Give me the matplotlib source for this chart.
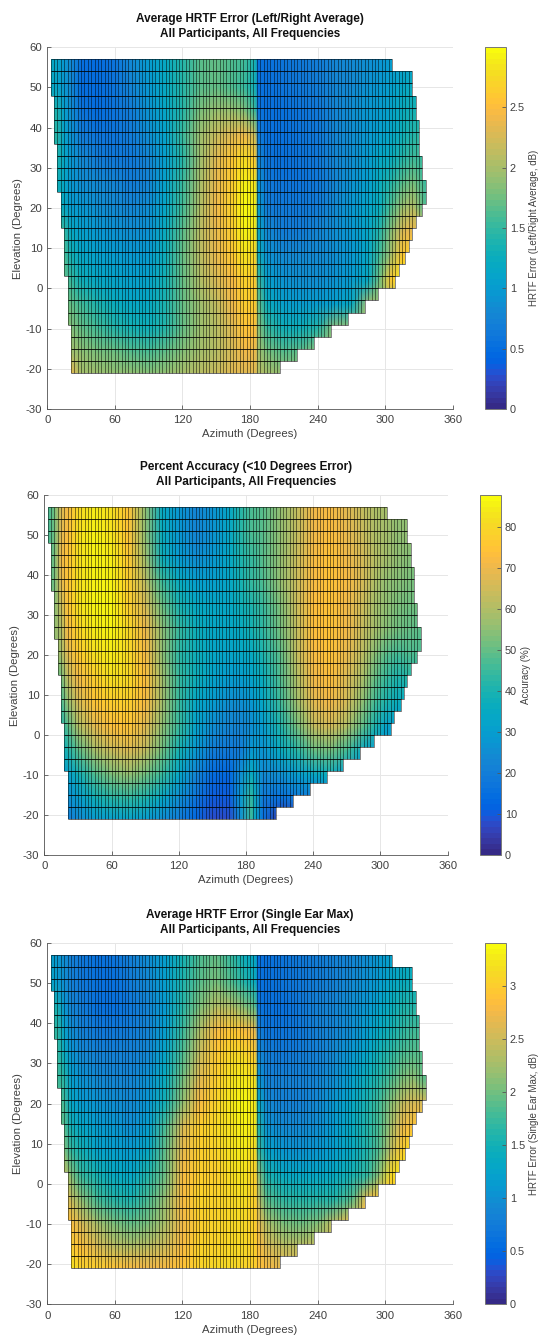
import numpy as np
import matplotlib
matplotlib.use('Agg')
import matplotlib.pyplot as plt
from matplotlib.colors import ListedColormap
from matplotlib.patches import Polygon

plt.rcParams['font.family'] = ['Liberation Sans', 'DejaVu Sans']
plt.rcParams['axes.unicode_minus'] = False

# parula, 64 levels
parula = ListedColormap([
    (0.2081, 0.1663, 0.5292), (0.2116, 0.1898, 0.5777), (0.2123, 0.2138, 0.6270), (0.2081, 0.2386, 0.6771),
    (0.1959, 0.2645, 0.7279), (0.1707, 0.2919, 0.7792), (0.1253, 0.3242, 0.8303), (0.0591, 0.3598, 0.8683),
    (0.0117, 0.3875, 0.8820), (0.0060, 0.4086, 0.8828), (0.0165, 0.4266, 0.8786), (0.0329, 0.4430, 0.8720),
    (0.0498, 0.4586, 0.8641), (0.0629, 0.4737, 0.8554), (0.0723, 0.4887, 0.8467), (0.0779, 0.5040, 0.8384),
    (0.0793, 0.5200, 0.8312), (0.0749, 0.5375, 0.8263), (0.0641, 0.5570, 0.8240), (0.0488, 0.5772, 0.8228),
    (0.0343, 0.5966, 0.8199), (0.0265, 0.6137, 0.8135), (0.0239, 0.6287, 0.8038), (0.0231, 0.6418, 0.7913),
    (0.0228, 0.6535, 0.7768), (0.0267, 0.6642, 0.7607), (0.0384, 0.6743, 0.7436), (0.0590, 0.6838, 0.7254),
    (0.0843, 0.6928, 0.7062), (0.1133, 0.7015, 0.6859), (0.1453, 0.7098, 0.6646), (0.1801, 0.7177, 0.6424),
    (0.2178, 0.7250, 0.6193), (0.2586, 0.7317, 0.5954), (0.3022, 0.7376, 0.5712), (0.3482, 0.7424, 0.5473),
    (0.3953, 0.7459, 0.5244), (0.4420, 0.7481, 0.5033), (0.4871, 0.7491, 0.4840), (0.5300, 0.7491, 0.4661),
    (0.5709, 0.7485, 0.4494), (0.6099, 0.7473, 0.4337), (0.6473, 0.7456, 0.4188), (0.6834, 0.7435, 0.4044),
    (0.7184, 0.7411, 0.3905), (0.7525, 0.7384, 0.3768), (0.7858, 0.7356, 0.3633), (0.8185, 0.7327, 0.3498),
    (0.8507, 0.7299, 0.3360), (0.8824, 0.7274, 0.3217), (0.9139, 0.7258, 0.3063), (0.9450, 0.7261, 0.2886),
    (0.9739, 0.7314, 0.2666), (0.9938, 0.7455, 0.2403), (0.9990, 0.7653, 0.2164), (0.9955, 0.7861, 0.1967),
    (0.9880, 0.8066, 0.1794), (0.9789, 0.8271, 0.1633), (0.9697, 0.8481, 0.1475), (0.9626, 0.8705, 0.1309),
    (0.9589, 0.8949, 0.1132), (0.9598, 0.9218, 0.0948), (0.9661, 0.9514, 0.0755), (0.9763, 0.9831, 0.0538)])

azimuths = [3, 9, 15, 21, 30, 45, 60, 75, 90, 105, 120, 135, 150, 165, 175, 185, 187, 195,
            210, 225, 240, 255, 270, 285, 295, 305, 315, 325, 336]
elevations = [57, 50, 44, 38, 32, 26, 20, 14, 8, 2, -4, -10, -16, -21]

# extent of each 3 degree row, top to bottom
row_tops = [57, 54, 51, 48, 45, 42, 39, 36, 33, 30, 27, 24, 21, 18, 15, 12, 9, 6, 3, 0, -3, -6, -9, -12, -15, -18]
row_left = [3, 3, 3, 6, 6, 6, 6, 9, 9, 9, 9, 12, 12, 12, 15, 15, 15, 15, 18, 18, 18, 18, 21, 21, 21, 21]
row_right = [306, 324, 324, 327, 327, 330, 330, 330, 333, 333, 336, 336, 333, 327, 324, 321, 318, 312, 309,
             294, 282, 267, 252, 237, 222, 207]

error_avg = [
    [1.2, 1.1, .95, .8, .55, .5, .6, .8, 1.0, 1.2, 1.45, 1.65, 1.7, 1.6, 1.55, 1.35, .55, .55, .6, .65, .7, .75, .8, .85, .9, 1.0, 1.05, 1.05, 1.05],
    [1.2, 1.1, .95, .8, .5, .48, .58, .75, .95, 1.2, 1.45, 1.65, 1.7, 1.6, 1.5, 1.3, .55, .55, .6, .65, .7, .75, .8, .9, .95, 1.05, 1.15, 1.25, 1.3],
    [1.4, 1.4, 1.05, .85, .58, .5, .58, .7, .9, 1.15, 1.45, 1.8, 1.95, 1.95, 1.85, 1.5, .6, .55, .55, .6, .65, .75, .85, .95, 1.0, 1.1, 1.25, 1.35, 1.4],
    [1.45, 1.45, 1.1, .9, .7, .6, .6, .7, .85, 1.1, 1.5, 1.95, 2.2, 2.3, 2.4, 2.2, .7, .55, .55, .6, .65, .75, .85, .95, 1.05, 1.15, 1.3, 1.45, 1.5],
    [1.4, 1.4, 1.15, .95, .8, .7, .65, .65, .75, 1.05, 1.45, 1.95, 2.3, 2.6, 2.8, 2.6, .8, .6, .55, .6, .65, .75, .85, 1.0, 1.15, 1.25, 1.45, 1.55, 1.5],
    [1.3, 1.3, 1.15, .95, .85, .8, .75, .7, .78, 1.1, 1.5, 2.0, 2.35, 2.65, 2.95, 2.85, .9, .65, .6, .6, .65, .75, .9, 1.05, 1.25, 1.45, 1.65, 1.8, 1.5],
    [1.35, 1.35, 1.2, 1.0, .95, .85, .8, .75, .85, 1.15, 1.55, 2.05, 2.4, 2.7, 3.0, 2.9, 1.0, .7, .65, .65, .7, .8, .95, 1.1, 1.25, 1.6, 1.95, 2.1, 1.6],
    [1.5, 1.5, 1.5, 1.2, 1.05, .95, .9, .85, .9, 1.25, 1.65, 2.1, 2.35, 2.65, 2.95, 2.85, 1.2, .8, .7, .7, .75, .85, .95, 1.15, 1.45, 1.85, 2.25, 2.4, 2.4],
    [1.6, 1.6, 1.6, 1.35, 1.15, 1.05, 1.0, .95, 1.0, 1.3, 1.7, 2.1, 2.35, 2.6, 2.85, 2.7, 1.3, .9, .8, .8, .8, .85, .95, 1.15, 1.55, 2.0, 2.6, 2.7, 2.7],
    [1.7, 1.7, 1.7, 1.5, 1.3, 1.15, 1.1, 1.05, 1.1, 1.35, 1.7, 2.05, 2.25, 2.45, 2.7, 2.6, 1.55, 1.05, .9, .85, .85, .9, 1.0, 1.2, 1.75, 2.6, 2.9, 2.9, 2.9],
    [1.8, 1.8, 1.8, 1.7, 1.55, 1.4, 1.25, 1.15, 1.2, 1.4, 1.7, 1.95, 2.15, 2.4, 2.65, 2.6, 1.75, 1.25, 1.05, 1.0, 1.0, 1.05, 1.2, 2.0, 2.0, 2.0, 2.0, 2.0, 2.0],
    [1.9, 1.9, 1.9, 1.85, 1.7, 1.55, 1.45, 1.35, 1.3, 1.45, 1.7, 1.95, 2.1, 2.3, 2.55, 2.5, 1.9, 1.5, 1.3, 1.3, 1.45, 1.9, 1.9, 1.9, 1.9, 1.9, 1.9, 1.9, 1.9],
    [2.0, 2.0, 2.0, 2.0, 1.9, 1.8, 1.75, 1.65, 1.6, 1.7, 1.85, 2.0, 2.1, 2.25, 2.4, 2.35, 2.0, 1.8, 1.65, 1.7, 1.9, 1.9, 1.9, 1.9, 1.9, 1.9, 1.9, 1.9, 1.9],
    [2.35, 2.35, 2.35, 2.35, 2.0, 1.95, 1.9, 1.9, 1.85, 1.9, 2.0, 2.1, 2.2, 2.3, 2.3, 2.3, 2.1, 2.0, 1.9, 1.9, 1.9, 1.9, 1.9, 1.9, 1.9, 1.9, 1.9, 1.9, 1.9],
]

accuracy = [
    [46, 52, 66, 72, 80, 84, 82, 74, 55, 35, 28, 22, 27, 33, 42, 47, 47, 49, 56, 63, 70, 72, 68, 63, 60, 58, 56, 55, 54],
    [46, 52, 68, 73, 81, 85, 83, 75, 56, 36, 28, 23, 27, 33, 42, 47, 47, 49, 56, 63, 70, 73, 69, 64, 60, 58, 56, 55, 54],
    [48, 52, 70, 74, 82, 86, 84, 76, 58, 38, 30, 26, 28, 33, 40, 45, 45, 48, 56, 64, 72, 74, 71, 65, 61, 58, 56, 54, 52],
    [50, 52, 68, 75, 82, 86, 85, 77, 62, 46, 36, 31, 31, 33, 39, 44, 44, 47, 55, 64, 72, 75, 72, 65, 60, 56, 54, 53, 52],
    [52, 54, 64, 74, 81, 85, 86, 78, 67, 52, 41, 35, 33, 33, 37, 41, 42, 45, 53, 64, 73, 75, 71, 64, 58, 55, 53, 52, 51],
    [54, 56, 60, 72, 79, 84, 85, 80, 71, 56, 44, 37, 34, 33, 35, 39, 40, 43, 51, 63, 73, 75, 70, 63, 58, 54, 52, 50, 48],
    [54, 56, 58, 68, 76, 82, 84, 80, 72, 55, 43, 37, 34, 32, 33, 35, 36, 40, 49, 62, 72, 74, 69, 61, 54, 48, 46, 47, 47],
    [50, 52, 52, 62, 71, 78, 81, 80, 73, 58, 45, 37, 32, 30, 30, 32, 33, 36, 47, 60, 70, 73, 67, 58, 50, 44, 41, 42, 42],
    [45, 46, 46, 55, 65, 74, 78, 78, 72, 58, 45, 34, 29, 26, 26, 28, 29, 33, 44, 57, 68, 71, 65, 54, 46, 40, 36, 34, 34],
    [42, 42, 42, 48, 60, 68, 73, 74, 68, 55, 44, 32, 25, 22, 22, 25, 27, 30, 41, 52, 63, 65, 59, 48, 40, 32, 30, 30, 30],
    [36, 36, 36, 40, 48, 58, 64, 66, 62, 52, 39, 28, 20, 18, 20, 28, 30, 27, 35, 42, 50, 52, 46, 34, 30, 28, 28, 28, 28],
    [30, 30, 30, 31, 38, 47, 53, 55, 52, 44, 33, 22, 15, 13, 25, 36, 34, 24, 25, 30, 34, 36, 30, 24, 24, 24, 24, 24, 24],
    [24, 24, 24, 25, 30, 37, 42, 43, 40, 34, 26, 17, 10, 10, 28, 44, 38, 18, 16, 18, 18, 18, 18, 18, 18, 18, 18, 18, 18],
    [20, 20, 20, 20, 24, 29, 31, 32, 30, 26, 20, 13, 7, 8, 26, 46, 36, 16, 4, 4, 4, 4, 4, 4, 4, 4, 4, 4, 4],
]

error_max = [
    [1.2, 1.1, 1.0, .85, .7, .6, .65, .8, 1.0, 1.2, 1.5, 1.85, 1.95, 1.7, 1.4, 1.3, .6, .6, .65, .7, .75, .8, .9, 1.0, 1.1, 1.2, 1.3, 1.35, 1.35],
    [1.3, 1.15, 1.0, .85, .7, .6, .6, .75, .95, 1.2, 1.55, 1.9, 2.05, 1.85, 1.6, 1.4, .6, .6, .65, .7, .75, .85, .95, 1.05, 1.15, 1.3, 1.4, 1.45, 1.45],
    [1.5, 1.5, 1.1, .9, .75, .6, .6, .7, .9, 1.15, 1.6, 2.05, 2.35, 2.3, 2.1, 1.9, .65, .6, .6, .7, .8, .9, 1.0, 1.1, 1.25, 1.4, 1.55, 1.65, 1.7],
    [1.7, 1.7, 1.25, 1.0, .85, .7, .7, .75, .9, 1.2, 1.75, 2.3, 2.8, 2.95, 2.85, 2.7, .8, .65, .65, .7, .8, .9, 1.0, 1.2, 1.35, 1.5, 1.7, 1.8, 1.8],
    [1.75, 1.75, 1.4, 1.1, .95, .85, .8, .8, .95, 1.3, 1.85, 2.5, 2.95, 3.1, 3.1, 2.95, .95, .75, .7, .75, .85, .95, 1.1, 1.3, 1.5, 1.7, 1.85, 1.9, 1.9],
    [1.8, 1.8, 1.6, 1.2, 1.05, .95, .9, .9, 1.05, 1.4, 2.0, 2.65, 3.0, 3.25, 3.3, 3.15, 1.1, .85, .8, .8, .9, 1.0, 1.2, 1.45, 1.65, 1.85, 2.05, 2.15, 1.9],
    [1.9, 1.9, 1.8, 1.3, 1.15, 1.05, 1.0, .95, 1.1, 1.5, 2.15, 2.8, 3.05, 3.3, 3.4, 3.25, 1.4, .95, .85, .85, .95, 1.1, 1.3, 1.55, 1.8, 2.1, 2.4, 2.6, 2.6],
    [2.0, 2.0, 1.9, 1.5, 1.3, 1.15, 1.1, 1.0, 1.2, 1.85, 2.6, 3.0, 3.1, 3.2, 3.35, 3.2, 1.6, 1.05, .95, .95, 1.0, 1.15, 1.35, 1.6, 1.85, 2.25, 2.7, 2.9, 2.9],
    [2.2, 2.2, 2.1, 1.75, 1.5, 1.25, 1.2, 1.15, 1.35, 1.95, 2.7, 3.0, 3.05, 3.2, 3.3, 3.1, 1.8, 1.25, 1.1, 1.05, 1.1, 1.2, 1.35, 1.6, 1.9, 2.4, 3.0, 3.2, 3.2],
    [2.5, 2.5, 2.5, 2.1, 1.75, 1.5, 1.35, 1.3, 1.6, 2.0, 2.8, 3.0, 3.0, 3.15, 3.2, 3.0, 2.2, 1.55, 1.35, 1.3, 1.3, 1.35, 1.5, 1.75, 2.15, 3.1, 3.3, 3.3, 3.3],
    [2.7, 2.7, 2.7, 2.5, 2.15, 1.8, 1.65, 1.55, 1.85, 2.2, 2.8, 3.05, 3.05, 3.1, 3.15, 3.0, 2.5, 1.9, 1.7, 1.6, 1.6, 1.65, 1.9, 2.8, 2.9, 2.9, 2.9, 2.9, 2.9],
    [2.9, 2.9, 2.9, 2.85, 2.6, 2.25, 2.05, 1.95, 2.05, 2.3, 2.75, 3.0, 3.05, 3.1, 3.1, 3.0, 2.7, 2.3, 2.05, 2.0, 2.1, 2.5, 2.8, 2.8, 2.8, 2.8, 2.8, 2.8, 2.8],
    [3.1, 3.1, 3.1, 3.0, 2.85, 2.6, 2.45, 2.35, 2.4, 2.55, 2.8, 3.05, 3.05, 3.1, 3.1, 3.0, 2.85, 2.6, 2.45, 2.45, 2.5, 2.5, 2.5, 2.5, 2.5, 2.5, 2.5, 2.5, 2.5],
    [3.3, 3.3, 3.3, 3.25, 3.05, 3.0, 2.9, 2.8, 2.75, 2.8, 2.9, 3.05, 3.1, 3.1, 3.05, 3.0, 2.9, 2.8, 2.65, 2.6, 2.6, 2.6, 2.6, 2.6, 2.6, 2.6, 2.6, 2.6, 2.6],
]

titles = ['Average HRTF Error (Left/Right Average)\nAll Participants, All Frequencies',
          'Percent Accuracy (<10 Degrees Error)\nAll Participants, All Frequencies',
          'Average HRTF Error (Single Ear Max)\nAll Participants, All Frequencies']
cbar_labels = ['HRTF Error (Left/Right Average, dB)', 'Accuracy (%)', 'HRTF Error (Single Ear Max, dB)']
cbar_ticks = [[0, 0.5, 1, 1.5, 2, 2.5], [0, 10, 20, 30, 40, 50, 60, 70, 80], [0, 0.5, 1, 1.5, 2, 2.5, 3]]
cbar_ticklabels = [['0', '0.5', '1', '1.5', '2', '2.5'],
                   ['0', '10', '20', '30', '40', '50', '60', '70', '80'],
                   ['0', '0.5', '1', '1.5', '2', '2.5', '3']]
vmaxes = [2.997, 87.7, 3.41]
panels = [error_avg, accuracy, error_max]

# left, right, top, bottom in pixels; colorbar left and right
boxes = [(47.3, 452.7, 47.3, 409.0, 485.0, 505.7),
         (44.3, 447.7, 495.3, 855.0, 480.0, 500.7),
         (47.3, 452.7, 943.0, 1304.3, 485.0, 505.7)]

GREY = '#555555'
TEXT = '#404040'
W, H = 540, 1335
fig = plt.figure(figsize=(W / 100, H / 100), dpi=100)


def px_rect(l, r, t, b):
    return [l / W, 1 - b / H, (r - l) / W, (b - t) / H]


for i in range(3):
    l, r, t, b, cl, cr = boxes[i]
    ax = fig.add_axes(px_rect(l, r, t, b))
    mesh = ax.pcolormesh(azimuths, elevations, np.array(panels[i], dtype=float), shading='gouraud',
                         cmap=parula, vmin=0, vmax=vmaxes[i], zorder=2)

    # stair-step outline of the measured region
    outline = []
    for top, lo, hi in zip(row_tops, row_left, row_right):
        outline += [(hi, top), (hi, top - 3)]
    for top, lo, hi in zip(row_tops[::-1], row_left[::-1], row_right[::-1]):
        outline += [(lo, top - 3), (lo, top)]
    clip = Polygon(outline, closed=True, transform=ax.transData, facecolor='none', edgecolor='none')
    ax.add_patch(clip)
    mesh.set_clip_path(clip)

    # cell edges
    for top, lo, hi in zip(row_tops, row_left, row_right):
        ax.hlines([top, top - 3], lo, hi, color='black', lw=0.5, alpha=0.8, zorder=3)
        ax.vlines(np.arange(lo, hi + 1, 3), top - 3, top, color='black', lw=0.45, alpha=0.75, zorder=3)

    ax.set_xlim(0, 360)
    ax.set_ylim(-30, 60)
    ax.set_xticks(range(0, 361, 60))
    ax.set_yticks(range(-30, 61, 10))
    ax.grid(True, color='#e6e6e6', lw=0.7)
    ax.set_axisbelow(True)
    ax.spines['top'].set_visible(False)
    ax.spines['right'].set_visible(False)
    for side in ['left', 'bottom']:
        ax.spines[side].set_color(GREY)
        ax.spines[side].set_linewidth(0.6)
    ax.tick_params(direction='in', length=3, width=0.6, color=GREY, labelcolor=TEXT, labelsize=8.2)
    ax.tick_params(axis='x', pad=4.5)
    ax.tick_params(axis='y', pad=3.5)
    ax.set_xlabel('Azimuth (Degrees)', fontsize=8.2, color=TEXT, labelpad=3)
    ax.set_ylabel('Elevation (Degrees)', fontsize=8.2, color=TEXT, labelpad=2)
    ax.set_title(titles[i], fontsize=8.5, fontweight='bold', color='#111111', pad=7.5, linespacing=1.3)

    cax = fig.add_axes(px_rect(cl, cr, t, b))
    cbar = fig.colorbar(mesh, cax=cax)
    cbar.set_ticks(cbar_ticks[i])
    cbar.set_ticklabels(cbar_ticklabels[i])
    cbar.outline.set_edgecolor('#777777')
    cbar.outline.set_linewidth(0.7)
    cax.tick_params(direction='in', length=3, width=0.6, color=GREY, labelcolor=TEXT, labelsize=7.8, pad=3)
    cbar.set_label(cbar_labels[i], fontsize=7, color=TEXT, labelpad=3)

fig.savefig('out.png', dpi=100)
